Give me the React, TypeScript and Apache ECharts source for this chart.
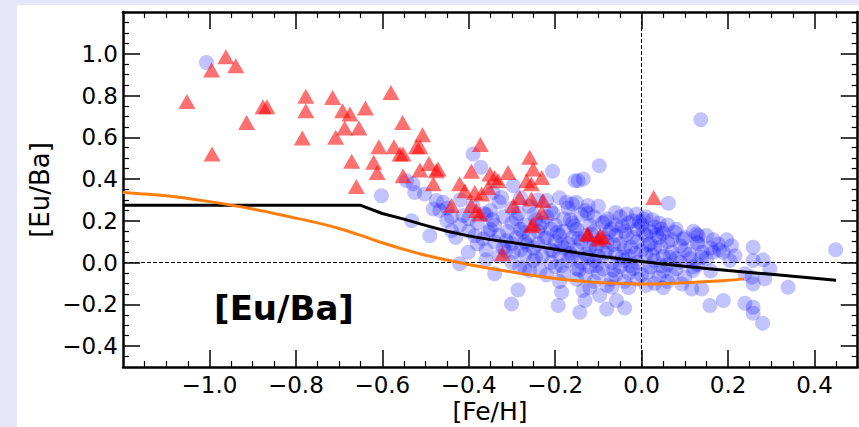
import React, { useEffect, useRef } from "react";
import * as echarts from "echarts";

const xMajor = [-1.0, -0.8, -0.6, -0.4, -0.2, 0.0, 0.2, 0.4];
const xMinor = [-1.15, -1.1, -1.05, -0.95, -0.9, -0.85, -0.75, -0.7, -0.65, -0.55, -0.5, -0.45, -0.35, -0.3, -0.25, -0.15, -0.1, -0.05, 0.05, 0.1, 0.15, 0.25, 0.3, 0.35, 0.45];
const yMajor = [-0.4, -0.2, 0.0, 0.2, 0.4, 0.6, 0.8, 1.0];
const yMinor = [-0.45, -0.35, -0.3, -0.25, -0.15, -0.1, -0.05, 0.05, 0.1, 0.15, 0.25, 0.3, 0.35, 0.45, 0.5, 0.55, 0.65, 0.7, 0.75, 0.85, 0.9, 0.95, 1.05, 1.1, 1.15];

const blueStars: number[][] = [
  [-1.007, 0.958], [0.137, 0.684], [-0.098, 0.464], [-0.147, 0.392], [-0.135, 0.4], [0.062, 0.284], [-0.206, 0.437], [0.449, 0.062],
  [-0.39, 0.52], [-0.372, 0.456], [-0.154, 0.392], [-0.602, 0.32], [-0.529, 0.377], [-0.525, 0.336], [-0.502, 0.329], [-0.544, 0.392],
  [-0.475, 0.297], [-0.467, 0.249], [-0.482, 0.257], [-0.459, 0.289], [-0.451, 0.201], [-0.413, 0.225], [-0.344, 0.336], [-0.324, 0.312],
  [-0.297, 0.368], [-0.532, 0.2], [-0.49, 0.129], [-0.44, 0.153], [-0.401, 0.049], [-0.421, -0.006], [-0.36, 0.013], [-0.34, -0.054],
  [-0.286, -0.131], [-0.301, -0.198], [-0.386, 0.129], [-0.367, 0.113], [-0.313, 0.105], [-0.297, 0.049], [-0.282, -0.022], [-0.259, -0.038],
  [-0.235, -0.038], [-0.185, -0.142], [-0.193, -0.206], [-0.143, -0.238], [-0.131, -0.182], [-0.136, -0.134], [-0.097, -0.158], [-0.081, -0.222],
  [-0.058, -0.182], [-0.039, -0.217], [-0.069, -0.118], [0.158, -0.206], [0.189, -0.182], [0.239, -0.195], [0.258, -0.214], [0.258, -0.243],
  [0.28, -0.29], [0.339, -0.118], [0.297, -0.03], [0.285, -0.078], [0.258, -0.102], [0.255, -0.07], [0.258, 0.073], [0.281, 0.013],
  [0.258, 0.01], [0.239, -0.054], [0.131, 0.129], [0.129, 0.097], [0.166, 0.109], [0.177, 0.089], [0.197, 0.109], [0.208, 0.081],
  [0.189, 0.049], [0.216, 0.033], [0.204, 0.01], [0.166, 0.049], [0.139, 0.026], [0.112, 0.018], [0.096, 0.113], [0.119, -0.038],
  [0.139, -0.126], [0.116, -0.126], [0.093, -0.102], [-0.22, 0.297], [-0.174, 0.289], [-0.124, 0.273], [-0.151, 0.289], [-0.035, 0.233],
  [-0.012, 0.233], [0.004, 0.209], [0.046, 0.161], [0.077, 0.145], [0.127, 0.137],
  [-0.42, 0.30], [-0.33, 0.29], [-0.28, 0.31], [-0.24, 0.30], [-0.19, 0.31], [-0.16, 0.28],
  [-0.45, 0.26], [-0.39, 0.27], [-0.35, 0.25], [-0.30, 0.26], [-0.26, 0.27], [-0.21, 0.25], [-0.17, 0.26], [-0.13, 0.25], [-0.10, 0.27], [-0.06, 0.24],
  [-0.44, 0.22], [-0.40, 0.21], [-0.36, 0.23], [-0.32, 0.22], [-0.29, 0.21], [-0.25, 0.23], [-0.22, 0.22], [-0.18, 0.21], [-0.14, 0.23], [-0.11, 0.22],
  [-0.08, 0.21], [-0.05, 0.22], [-0.02, 0.20], [0.01, 0.22], [0.04, 0.19],
  [-0.42, 0.18], [-0.38, 0.19], [-0.34, 0.18], [-0.30, 0.19], [-0.27, 0.18], [-0.23, 0.19], [-0.20, 0.18], [-0.16, 0.19], [-0.12, 0.18], [-0.09, 0.19],
  [-0.06, 0.18], [-0.03, 0.19], [0.00, 0.18], [0.03, 0.17], [0.06, 0.18],
  [-0.40, 0.15], [-0.35, 0.16], [-0.31, 0.15], [-0.28, 0.16], [-0.24, 0.15], [-0.21, 0.16], [-0.18, 0.15], [-0.15, 0.16], [-0.11, 0.15], [-0.07, 0.16],
  [-0.04, 0.15], [-0.01, 0.16], [0.02, 0.15], [0.05, 0.14], [0.08, 0.16], [0.12, 0.15], [0.15, 0.13],
  [-0.43, 0.12], [-0.33, 0.13], [-0.29, 0.12], [-0.26, 0.13], [-0.22, 0.12], [-0.19, 0.13], [-0.16, 0.12], [-0.13, 0.13], [-0.09, 0.12], [-0.06, 0.13],
  [-0.02, 0.12], [0.01, 0.13], [0.04, 0.12], [0.07, 0.11], [0.10, 0.12],
  [-0.38, 0.09], [-0.34, 0.10], [-0.30, 0.09], [-0.27, 0.10], [-0.24, 0.09], [-0.20, 0.10], [-0.17, 0.09], [-0.14, 0.10], [-0.11, 0.09], [-0.08, 0.10],
  [-0.05, 0.09], [-0.01, 0.10], [0.02, 0.09], [0.06, 0.10], [0.09, 0.08], [0.13, 0.09], [0.16, 0.07],
  [-0.36, 0.06], [-0.32, 0.07], [-0.28, 0.06], [-0.25, 0.07], [-0.21, 0.06], [-0.18, 0.07], [-0.15, 0.06], [-0.12, 0.07], [-0.08, 0.06], [-0.04, 0.07],
  [0.00, 0.06], [0.03, 0.07], [0.07, 0.05], [0.10, 0.06], [0.14, 0.05], [0.18, 0.06],
  [-0.33, 0.03], [-0.27, 0.04], [-0.23, 0.03], [-0.19, 0.04], [-0.16, 0.03], [-0.13, 0.04], [-0.10, 0.03], [-0.06, 0.04], [-0.03, 0.03], [0.01, 0.04],
  [0.05, 0.03], [0.08, 0.02], [0.11, 0.04], [0.15, 0.02],
  [-0.30, 0.00], [-0.25, 0.01], [-0.21, 0.00], [-0.17, 0.01], [-0.14, 0.00], [-0.11, 0.01], [-0.07, 0.00], [-0.04, 0.01], [-0.01, 0.00], [0.03, 0.01],
  [0.06, -0.01], [0.09, 0.00], [0.13, -0.01],
  [-0.27, -0.03], [-0.20, -0.02], [-0.15, -0.03], [-0.12, -0.02], [-0.09, -0.03], [-0.05, -0.02], [-0.02, -0.03], [0.02, -0.02], [0.05, -0.04], [0.08, -0.03],
  [0.12, -0.02], [0.16, -0.04],
  [-0.22, -0.06], [-0.18, -0.05], [-0.13, -0.06], [-0.10, -0.05], [-0.06, -0.06], [-0.03, -0.05], [0.00, -0.06], [0.04, -0.07], [0.07, -0.06], [0.10, -0.07],
  [-0.19, -0.09], [-0.15, -0.08], [-0.11, -0.09], [-0.07, -0.08], [-0.04, -0.09], [-0.01, -0.08], [0.03, -0.10], [0.06, -0.09],
  [-0.12, -0.12], [-0.08, -0.11], [-0.03, -0.12], [0.01, -0.11], [0.05, -0.12],
  [-0.285, 0.235], [-0.245, 0.205], [-0.205, 0.235], [-0.165, 0.205], [-0.125, 0.235], [-0.085, 0.195], [-0.045, 0.175], [-0.005, 0.195], [0.025, 0.205],
  [-0.275, 0.145], [-0.235, 0.175], [-0.195, 0.145], [-0.155, 0.175], [-0.115, 0.135], [-0.075, 0.145], [-0.035, 0.135], [0.005, 0.145], [0.035, 0.135],
  [-0.265, 0.085], [-0.225, 0.115], [-0.185, 0.085], [-0.145, 0.115], [-0.105, 0.075], [-0.065, 0.085], [-0.025, 0.075], [0.015, 0.085], [0.045, 0.075],
  [-0.245, 0.025], [-0.205, 0.055], [-0.165, 0.045], [-0.125, 0.025], [-0.085, 0.045], [-0.045, 0.025], [-0.015, 0.045], [0.025, 0.035], [0.065, 0.025],
  [-0.185, -0.015], [-0.145, -0.035], [-0.105, -0.015], [-0.065, -0.035], [-0.025, -0.015], [0.015, -0.045], [0.045, -0.015],
  [-0.345, 0.205], [-0.355, 0.145], [-0.315, 0.055], [-0.365, 0.235],
];

const redStars: number[][] = [
  [-0.962, 0.986], [-0.995, 0.922], [-0.939, 0.943], [-1.052, 0.772], [-0.914, 0.671], [-0.876, 0.746], [-0.867, 0.746], [-0.994, 0.52],
  [-0.777, 0.796], [-0.777, 0.727], [-0.785, 0.597], [-0.715, 0.791], [-0.692, 0.727], [-0.675, 0.711], [-0.639, 0.74], [-0.687, 0.644],
  [-0.654, 0.644], [-0.708, 0.6], [-0.58, 0.815], [-0.553, 0.671], [-0.608, 0.555], [-0.573, 0.555], [-0.559, 0.52], [-0.552, 0.52],
  [-0.507, 0.612], [-0.521, 0.555], [-0.513, 0.555], [-0.671, 0.485], [-0.62, 0.48], [-0.612, 0.432], [-0.66, 0.364], [-0.552, 0.416],
  [-0.513, 0.443], [-0.492, 0.475], [-0.475, 0.44], [-0.471, 0.448], [-0.482, 0.377], [-0.373, 0.565], [-0.394, 0.437], [-0.421, 0.377],
  [-0.409, 0.344], [-0.44, 0.273], [-0.386, 0.336], [-0.37, 0.329], [-0.394, 0.273], [-0.382, 0.249], [-0.374, 0.233], [-0.351, 0.424],
  [-0.34, 0.408], [-0.332, 0.392], [-0.309, 0.432], [-0.355, 0.36], [-0.259, 0.504], [-0.251, 0.448], [-0.266, 0.392], [-0.255, 0.377],
  [-0.231, 0.408], [-0.282, 0.312], [-0.297, 0.273], [-0.255, 0.305], [-0.228, 0.297], [-0.255, 0.177], [-0.231, 0.241], [-0.124, 0.137],
  [-0.096, 0.129], [0.028, 0.312], [-0.126, 0.137], [-0.1, 0.113], [-0.089, 0.121], [-0.322, 0.042], [-0.251, 0.185],
];

const blackX = [-1.2, -0.65, -0.6, -0.55, -0.5, -0.45, -0.4, -0.35, -0.3, -0.25, -0.2, -0.15, -0.1, -0.05, 0.0, 0.05, 0.1, 0.15, 0.2, 0.25, 0.3, 0.35, 0.4, 0.45];
const blackY = [0.275, 0.274, 0.235, 0.208, 0.178, 0.15, 0.128, 0.11, 0.096, 0.08, 0.064, 0.047, 0.032, 0.018, 0.005, -0.007, -0.018, -0.028, -0.038, -0.047, -0.056, -0.065, -0.075, -0.085];

const orangeX = [-1.2, -1.1, -1.0, -0.9, -0.8, -0.75, -0.7, -0.65, -0.6, -0.55, -0.5, -0.45, -0.4, -0.35, -0.3, -0.25, -0.2, -0.15, -0.1, -0.05, 0.0, 0.05, 0.1, 0.15, 0.2, 0.237];
const orangeY = [0.336, 0.32, 0.292, 0.257, 0.213, 0.19, 0.163, 0.13, 0.095, 0.063, 0.035, 0.012, -0.009, -0.028, -0.045, -0.062, -0.076, -0.087, -0.095, -0.1, -0.102, -0.101, -0.097, -0.091, -0.085, -0.078];

const FONT = "DejaVu Sans";
const fmt = (v: number) => {
  const s = (Math.abs(v) < 1e-9 ? 0 : v).toFixed(1);
  return s.replace("-", "\u2212");
};

function App() {
  const ref = useRef<HTMLDivElement>(null);
  useEffect(() => {
    document.body.style.margin = "0";
    if (!ref.current) return;
    const chart = echarts.init(ref.current, null, { renderer: "svg" });
    const lineW = 2.5;
    const majorX = (position: string, labels: boolean) => ({
      type: "value", position, min: -1.2, max: 0.5,
      axisLine: { show: true, onZero: false, lineStyle: { color: "#000", width: lineW } },
      axisTick: { show: true, inside: true, length: 17, customValues: xMajor, lineStyle: { color: "#000", width: 1.5 } },
      axisLabel: labels
        ? { show: true, customValues: xMajor, formatter: fmt, fontFamily: FONT, fontSize: 23, color: "#000", margin: 6 }
        : { show: false },
      splitLine: { show: false },
    });
    const minorX = (position: string) => ({
      type: "value", position, min: -1.2, max: 0.5,
      axisLine: { show: false, onZero: false },
      axisTick: { show: true, inside: true, length: 6, customValues: xMinor, lineStyle: { color: "#000", width: 1.2 } },
      axisLabel: { show: false },
      splitLine: { show: false },
    });
    const majorY = (position: string, labels: boolean) => ({
      type: "value", position, min: -0.5, max: 1.2,
      axisLine: { show: true, onZero: false, lineStyle: { color: "#000", width: lineW } },
      axisTick: { show: true, inside: true, length: 17, customValues: yMajor, lineStyle: { color: "#000", width: 1.5 } },
      axisLabel: labels
        ? { show: true, customValues: yMajor, formatter: fmt, fontFamily: FONT, fontSize: 23, color: "#000", margin: 5 }
        : { show: false },
      splitLine: { show: false },
    });
    const minorY = (position: string) => ({
      type: "value", position, min: -0.5, max: 1.2,
      axisLine: { show: false, onZero: false },
      axisTick: { show: true, inside: true, length: 6, customValues: yMinor, lineStyle: { color: "#000", width: 1.2 } },
      axisLabel: { show: false },
      splitLine: { show: false },
    });

    chart.setOption({
      animation: false,
      grid: { left: 106, right: 1.3, top: 7, bottom: 60, containLabel: false },
      xAxis: [majorX("bottom", true), minorX("bottom"), majorX("top", false), minorX("top")],
      yAxis: [majorY("left", true), minorY("left"), majorY("right", false), minorY("right")],
      series: [
        {
          type: "scatter", xAxisIndex: 0, yAxisIndex: 0, data: blueStars,
          symbol: "circle", symbolSize: 15,
          itemStyle: { color: "rgba(0,0,255,0.3)" },
          z: 2,
          markLine: {
            silent: true, symbol: ["none", "none"], label: { show: false },
            lineStyle: { color: "#000", width: 1, type: [4, 2] },
            data: [{ xAxis: 0 }, { yAxis: 0 }],
          },
        },
        {
          type: "scatter", xAxisIndex: 0, yAxisIndex: 0, data: redStars,
          symbol: "triangle", symbolSize: [17, 15],
          itemStyle: { color: "rgba(255,0,0,0.7)" },
          z: 3,
        },
        {
          type: "line", xAxisIndex: 0, yAxisIndex: 0,
          data: blackX.map((x, i) => [x, blackY[i]]),
          showSymbol: false, symbol: "none", smooth: false,
          lineStyle: { color: "#000", width: 3 }, z: 4,
        },
        {
          type: "line", xAxisIndex: 0, yAxisIndex: 0,
          data: orangeX.map((x, i) => [x, orangeY[i]]),
          showSymbol: false, symbol: "none", smooth: 0.3,
          lineStyle: { color: "#ff7f0e", width: 3 }, z: 5,
        },
      ],
      graphic: [
        {
          type: "text", x: 23, y: 185, rotation: Math.PI / 2,
          style: { text: "[Eu/Ba]", font: `26px "${FONT}"`, fill: "#000", align: "center", verticalAlign: "middle" },
        },
        {
          type: "text", x: 473, y: 406,
          style: { text: "[Fe/H]", font: `25px "${FONT}"`, fill: "#000", align: "center", verticalAlign: "middle" },
        },
        {
          type: "text", x: 267, y: 303,
          style: { text: "[Eu/Ba]", font: `bold 34px "${FONT}"`, fill: "#000", align: "center", verticalAlign: "middle" },
        },
      ],
    });
    return () => chart.dispose();
  }, []);
  return (
    <div style={{ position: "relative", width: 859, height: 427, background: "#e6e6fa", overflow: "hidden" }}>
      <div
        ref={ref}
        style={{ position: "absolute", left: 17, top: 5, width: 842, height: 422, background: "#ffffff" }}
      />
    </div>
  );
}

export default App;
